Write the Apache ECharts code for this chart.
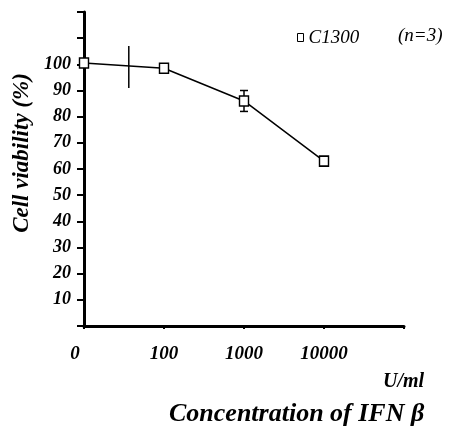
<!DOCTYPE html>
<html>
<head>
<meta charset="utf-8">
<script src="https://cdn.jsdelivr.net/npm/echarts@6/dist/echarts.min.js"></script>
<style>
  html, body { margin: 0; padding: 0; background: #fff; }
  #chart { width: 450px; height: 433px; }
</style>
</head>
<body>
<div id="chart"></div>
<script>
// dose positions on the x axis (evenly spaced, last slot empty)
var doseLabels = ['0', '100', '1000', '10000', ''];
// mean cell viability (%) at each dose
var viability = [100.5, 98.5, 86, 63];
// error bars: [x position, low, high]
var errorBars = [[2, 82, 90]];
// the odd vertical bar drawn between 0 and 100
var crossBar = [[0.56, 91, 107]];

var serif = 'Liberation Serif';
var chart = echarts.init(document.getElementById('chart'));

function barRender(capHalf) {
    return function (params, api) {
        var x = api.value(0);
        var lo = api.coord([x, api.value(1)]);
        var hi = api.coord([x, api.value(2)]);
        var style = { stroke: '#000', lineWidth: 1.5 };
        var kids = [{ type: 'line', shape: { x1: lo[0], y1: lo[1], x2: hi[0], y2: hi[1] }, style: style }];
        if (capHalf) {
            kids.push({ type: 'line', shape: { x1: lo[0] - capHalf, y1: lo[1], x2: lo[0] + capHalf, y2: lo[1] }, style: style });
            kids.push({ type: 'line', shape: { x1: hi[0] - capHalf, y1: hi[1], x2: hi[0] + capHalf, y2: hi[1] }, style: style });
        }
        return { type: 'group', children: kids };
    };
}

var option = {
    backgroundColor: '#fff',
    animation: false,
    grid: { left: 84, right: 46, top: 12, bottom: 107, containLabel: false, outerBoundsMode: 'none' },
    legend: {
        data: ['C1300'],
        left: 292,
        top: 23,
        icon: 'rect',
        itemWidth: 6,
        itemHeight: 8,
        itemGap: 5,
        itemStyle: { color: '#fff', borderColor: '#000', borderWidth: 1 },
        textStyle: { fontFamily: serif, fontStyle: 'italic', fontSize: 19, color: '#000' }
    },
    xAxis: {
        type: 'value',
        min: 0,
        max: 4,
        interval: 1,
        splitLine: { show: false },
        axisLine: { lineStyle: { color: '#000', width: 3 } },
        axisTick: { show: true, length: 3, lineStyle: { color: '#000', width: 2 } },
        axisLabel: {
            margin: 19,
            fontFamily: serif,
            fontStyle: 'italic',
            fontWeight: 'bold',
            fontSize: 19,
            color: '#000',
            formatter: function (v) {
                if (v === 0) return '{z|0}';
                return doseLabels[v] || '';
            },
            rich: {
                z: { padding: [0, 18, 0, 0], fontFamily: serif, fontStyle: 'italic', fontWeight: 'bold', fontSize: 19, color: '#000' }
            }
        }
    },
    yAxis: {
        type: 'value',
        min: 0,
        max: 120,
        interval: 10,
        splitLine: { show: false },
        axisLine: { show: true, lineStyle: { color: '#000', width: 3 } },
        axisTick: { show: true, length: 7, lineStyle: { color: '#000', width: 2 } },
        axisLabel: {
            margin: 13,
            fontFamily: serif,
            fontStyle: 'italic',
            fontWeight: 'bold',
            fontSize: 18,
            color: '#000',
            formatter: function (v) { return (v > 0 && v <= 100) ? String(v) : ''; }
        }
    },
    series: [
        {
            name: 'C1300',
            type: 'line',
            data: viability.map(function (v, i) { return [i, v]; }),
            symbol: 'rect',
            symbolSize: [9, 10],
            showAllSymbol: true,
            lineStyle: { color: '#000', width: 1.5 },
            itemStyle: { color: '#fff', borderColor: '#000', borderWidth: 1.5 },
            z: 3
        },
        {
            type: 'custom',
            renderItem: barRender(4),
            data: errorBars,
            z: 2
        },
        {
            type: 'custom',
            renderItem: barRender(0),
            data: crossBar,
            z: 2
        }
    ],
    graphic: [
        {
            type: 'text',
            x: 22,
            y: 153,
            rotation: Math.PI / 2,
            style: {
                text: 'Cell viability (%)',
                font: 'italic bold 23px "Liberation Serif"',
                fill: '#000',
                align: 'center',
                verticalAlign: 'middle'
            }
        },
        {
            type: 'text',
            left: 398,
            top: 26,
            style: { text: '(n=3)', font: 'italic 19px "Liberation Serif"', fill: '#000' }
        },
        {
            type: 'text',
            left: 383,
            top: 372,
            style: { text: 'U/ml', font: 'italic bold 20px "Liberation Serif"', fill: '#000' }
        },
        {
            type: 'text',
            left: 169,
            top: 401,
            style: { text: 'Concentration of IFN \u03B2', font: 'italic bold 26px "Liberation Serif"', fill: '#000' }
        }
    ]
};

chart.setOption(option);
</script>
</body>
</html>
